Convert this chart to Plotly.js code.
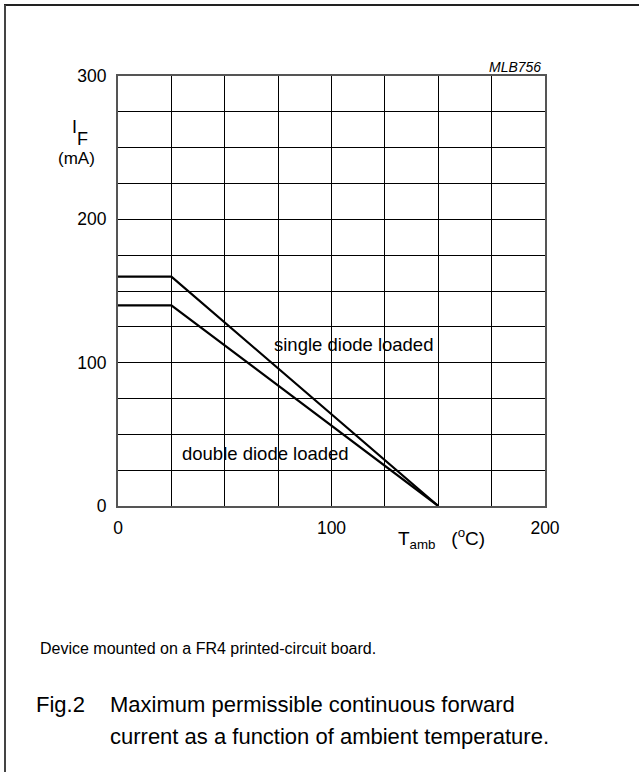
<!DOCTYPE html>
<html>
<head>
<meta charset="utf-8">
<script src="https://cdn.plot.ly/plotly-3.0.1.min.js"></script>
<style>html,body{margin:0;padding:0;background:#fff;}#chart{width:639px;height:772px;}</style>
</head>
<body>
<div id="chart"></div>
<script>
// Data
const singleTemp = [0, 25, 150];
const singleCurrent = [160, 160, 0];
const doubleTemp = [0, 25, 150];
const doubleCurrent = [140, 140, 0];

const xTickVals = [0, 25, 50, 75, 100, 125, 150, 175, 200];
const xTickText = ['0', '', '', '', '100', '', '', '', '200'];
const yTickVals = [0, 25, 50, 75, 100, 125, 150, 175, 200, 225, 250, 275, 300];
const yTickText = ['0', '', '', '', '100', '', '', '', '200', '', '', '', '300'];

const W = 639, H = 772;
const px = x => x / W;
const py = y => 1 - y / H;
const FONT = 'Liberation Sans, Arial, sans-serif';

const traces = [
  {x: singleTemp, y: singleCurrent, mode: 'lines', line: {color: '#000', width: 2.2}, hoverinfo: 'skip', name: 'single diode loaded'},
  {x: doubleTemp, y: doubleCurrent, mode: 'lines', line: {color: '#000', width: 2.2}, hoverinfo: 'skip', name: 'double diode loaded'}
];

const layout = {
  width: W, height: H,
  margin: {l: 0, r: 0, t: 0, b: 0},
  paper_bgcolor: '#fff', plot_bgcolor: '#fff',
  showlegend: false,
  font: {family: FONT, size: 17, color: '#000'},
  xaxis: {
    domain: [px(118), px(545)], range: [0, 200],
    tickmode: 'array', tickvals: xTickVals, ticktext: xTickText,
    showgrid: true, gridcolor: '#000', gridwidth: 1,
    zeroline: false, showline: true, linecolor: '#555', linewidth: 2, mirror: true,
    ticks: '', ticklabelstandoff: 5,
    tickfont: {family: FONT, size: 17.5, color: '#000'}
  },
  yaxis: {
    domain: [py(506), py(76)], range: [0, 300],
    tickmode: 'array', tickvals: yTickVals, ticktext: yTickText,
    showgrid: true, gridcolor: '#000', gridwidth: 1,
    zeroline: false, showline: true, linecolor: '#555', linewidth: 2, mirror: true,
    ticks: '', ticklabelstandoff: 6,
    tickfont: {family: FONT, size: 17.5, color: '#000'}
  },
  shapes: [
    {type: 'line', xref: 'paper', yref: 'paper', x0: px(4), x1: 1, y0: py(5), y1: py(5), line: {color: '#222', width: 2}},
    {type: 'line', xref: 'paper', yref: 'paper', x0: px(5), x1: px(5), y0: py(5), y1: 0, line: {color: '#444', width: 2}}
  ],
  annotations: [
    {xref: 'paper', yref: 'paper', x: px(543), y: py(67), text: '<i>MLB756</i>', showarrow: false, xanchor: 'right', yanchor: 'middle', font: {family: FONT, size: 14}},
    {xref: 'paper', yref: 'paper', x: px(74), y: py(127), text: 'I', showarrow: false, xanchor: 'center', yanchor: 'middle', font: {family: FONT, size: 18}},
    {xref: 'paper', yref: 'paper', x: px(82), y: py(139), text: 'F', showarrow: false, xanchor: 'center', yanchor: 'middle', font: {family: FONT, size: 18}},
    {xref: 'paper', yref: 'paper', x: px(97), y: py(158), text: '(mA)', showarrow: false, xanchor: 'right', yanchor: 'middle', font: {family: FONT, size: 17}},
    {xref: 'paper', yref: 'paper', x: px(272), y: py(344), text: 'single diode loaded', showarrow: false, xanchor: 'left', yanchor: 'middle', font: {family: FONT, size: 18.5}},
    {xref: 'paper', yref: 'paper', x: px(180), y: py(453), text: 'double diode loaded', showarrow: false, xanchor: 'left', yanchor: 'middle', font: {family: FONT, size: 18.5}},
    {xref: 'paper', yref: 'paper', x: px(396), y: py(538), text: 'T<sub>amb</sub>   (<sup>o</sup>C)', showarrow: false, xanchor: 'left', yanchor: 'middle', font: {family: FONT, size: 19}},
    {xref: 'paper', yref: 'paper', x: px(38), y: py(648), text: 'Device mounted on a FR4 printed-circuit board.', showarrow: false, xanchor: 'left', yanchor: 'middle', font: {family: FONT, size: 16}},
    {xref: 'paper', yref: 'paper', x: px(34), y: py(704), text: 'Fig.2', showarrow: false, xanchor: 'left', yanchor: 'middle', font: {family: FONT, size: 22}},
    {xref: 'paper', yref: 'paper', x: px(108), y: py(704), text: 'Maximum permissible continuous forward', showarrow: false, xanchor: 'left', yanchor: 'middle', font: {family: FONT, size: 22}},
    {xref: 'paper', yref: 'paper', x: px(108), y: py(736), text: 'current as a function of ambient temperature.', showarrow: false, xanchor: 'left', yanchor: 'middle', font: {family: FONT, size: 22}}
  ]
};

Plotly.newPlot('chart', traces, layout, {displayModeBar: false, staticPlot: true});
</script>
</body>
</html>
